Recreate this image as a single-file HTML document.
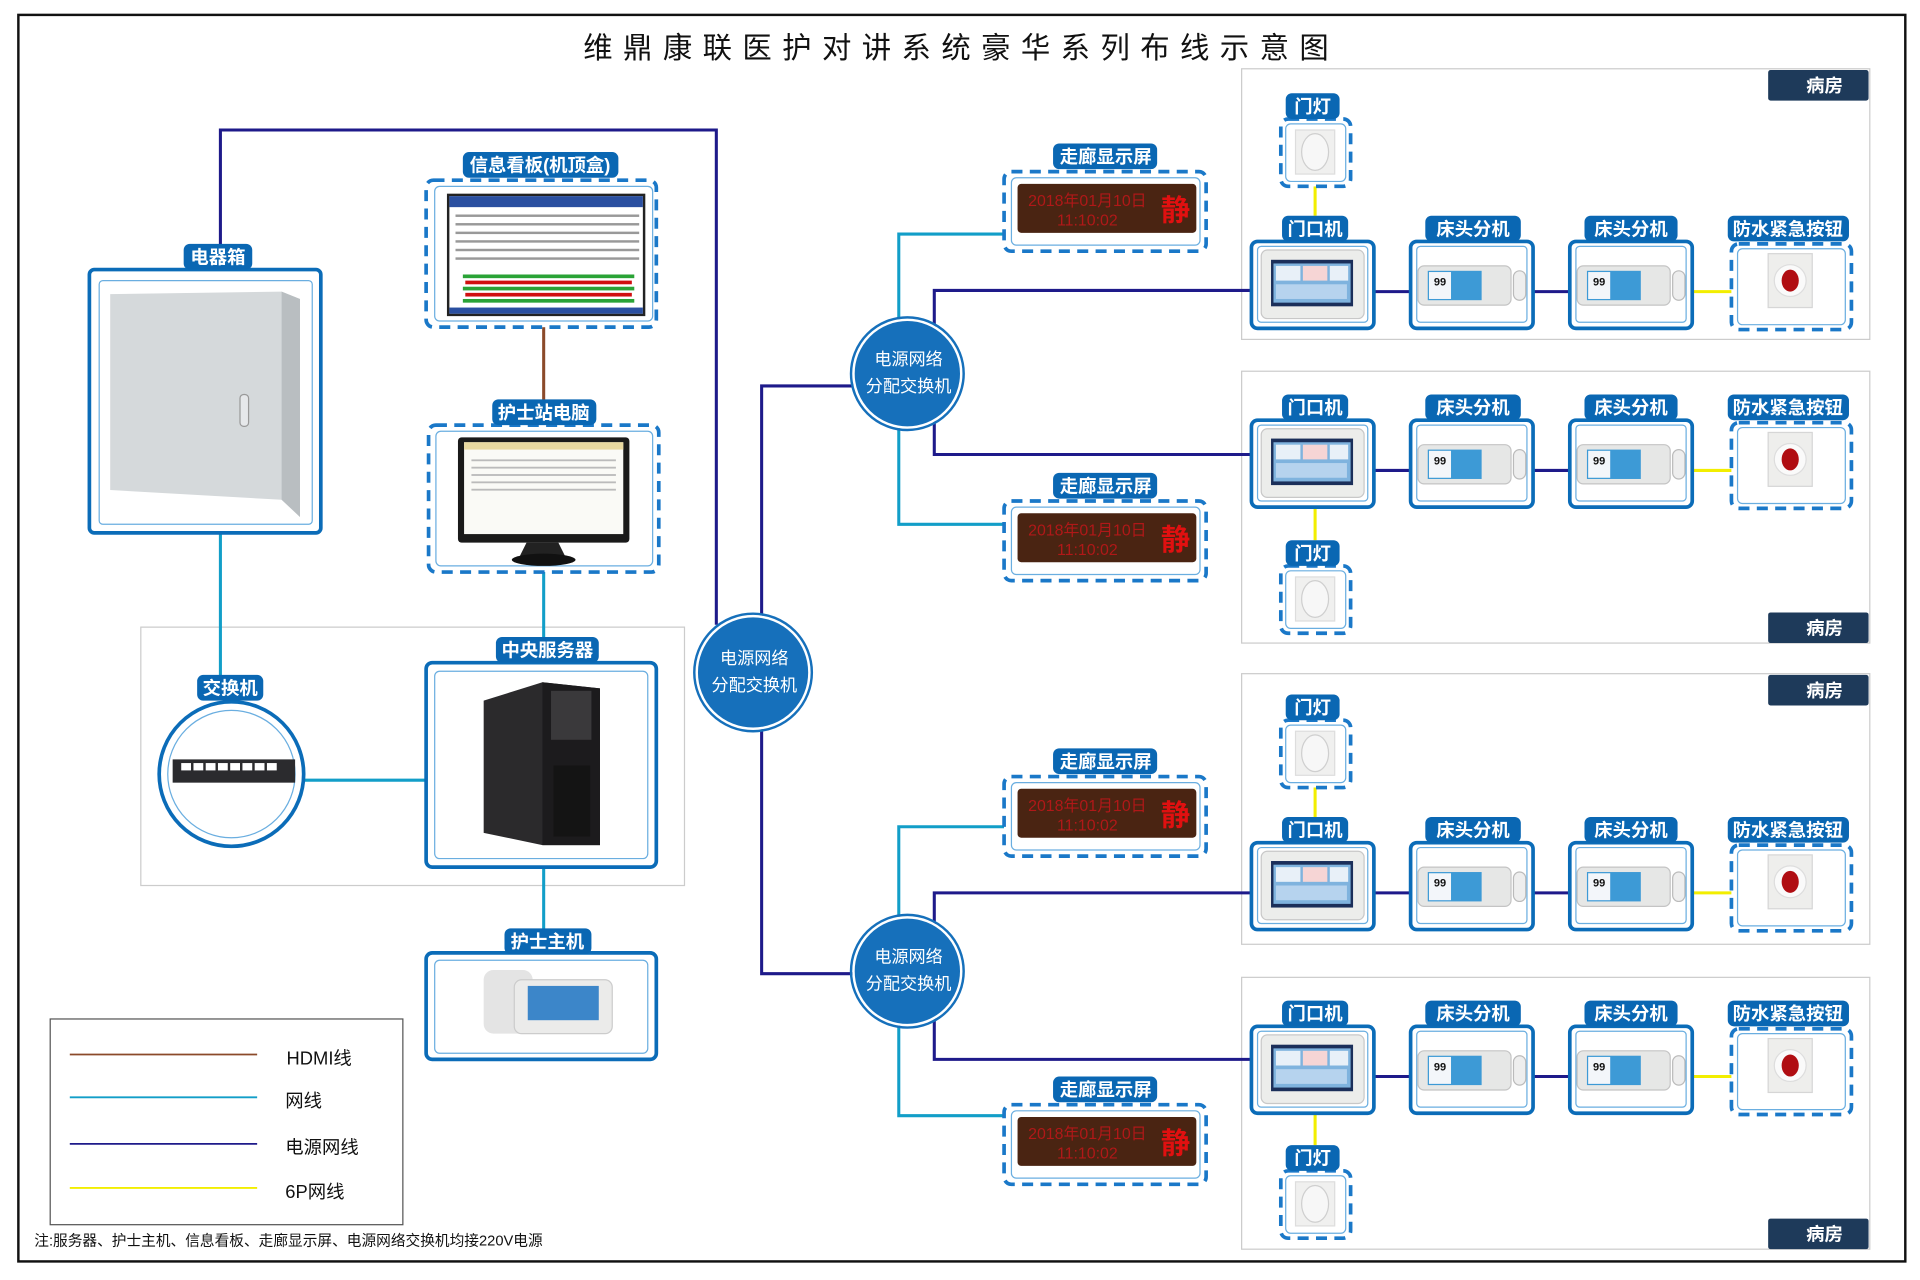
<!DOCTYPE html>
<html><head><meta charset="utf-8">
<style>
html,body{margin:0;padding:0;background:#fff;width:1920px;height:1280px;overflow:hidden}
svg{display:block}
text{font-family:"Liberation Sans","Noto Sans CJK SC",sans-serif}
.lb{fill:#fff;font-size:15px;font-weight:bold;text-anchor:middle}
</style></head><body>
<svg width="1920" height="1280" viewBox="0 0 1568 1045" xmlns="http://www.w3.org/2000/svg">
<defs>
 <g id="dm">
  <rect x="8" y="7" width="84" height="56" rx="5" fill="#ecedeb" stroke="#c8c8c8"/>
  <rect x="16" y="15" width="67" height="38" fill="#1b2f5a"/>
  <rect x="18" y="18" width="63" height="32" fill="#7fb3de"/>
  <rect x="20" y="20" width="20" height="12" fill="#e8f0f8"/><rect x="42" y="20" width="20" height="12" fill="#f6d5d5"/><rect x="64" y="20" width="15" height="12" fill="#e8f0f8"/>
  <rect x="20" y="35" width="58" height="12" fill="#b6d3ee"/>
 </g>
 <g id="bed">
  <rect x="6" y="20" width="76" height="32" rx="5" fill="#e6e7e6" stroke="#c4c4c4"/>
  <rect x="14" y="24" width="44" height="24" fill="#3d9ad6"/>
  <rect x="15" y="25" width="18" height="22" fill="#f3f6fa"/>
  <text x="24" y="36" font-size="9" font-weight="bold" text-anchor="middle" fill="#111">99</text>
  <rect x="84" y="24" width="10" height="24" rx="5" fill="#eee" stroke="#bbb"/>
 </g>
 <g id="sos">
  <rect x="32" y="8" width="36" height="44" fill="#eeeeec" stroke="#d6d6d6"/>
  <circle cx="50" cy="30" r="13" fill="#fafafa" stroke="#ddd"/>
  <ellipse cx="50" cy="30" rx="7" ry="9" fill="#b00d12"/>
 </g>
 <g id="lamp">
  <rect x="11" y="8" width="32" height="36" fill="#f0f0ef" stroke="#ddd"/>
  <ellipse cx="27" cy="26" rx="11" ry="15" fill="#f7f7f7" stroke="#cfcfcf"/>
 </g>
 <g id="row">
  <g fill="none" stroke-width="2.5"><path d="M1122 238 H1152 M1252 238 H1282" stroke="#1e1a8a"/><path d="M1382 238 H1414" stroke="#f2ee00"/></g>
  <rect x="1022" y="197" width="100" height="71" rx="5" fill="#fff" stroke="#0b6cb8" stroke-width="3"/>
  <rect x="1027" y="201" width="90" height="62" rx="3" fill="none" stroke="#6aaee0"/>
  <use href="#dm" x="1022" y="197"/>
  <rect x="1152" y="197" width="100" height="71" rx="5" fill="#fff" stroke="#0b6cb8" stroke-width="3"/>
  <rect x="1157" y="201" width="90" height="62" rx="3" fill="none" stroke="#6aaee0"/>
  <use href="#bed" x="1152" y="197"/>
  <rect x="1282" y="197" width="100" height="71" rx="5" fill="#fff" stroke="#0b6cb8" stroke-width="3"/>
  <rect x="1287" y="201" width="90" height="62" rx="3" fill="none" stroke="#6aaee0"/>
  <use href="#bed" x="1282" y="197"/>
  <rect x="1414" y="199" width="98" height="70" rx="6" fill="#fff" stroke="#1a78c8" stroke-width="3" stroke-dasharray="9 6"/>
  <rect x="1419" y="203" width="88" height="62" rx="4" fill="none" stroke="#6aaee0"/>
  <use href="#sos" x="1412" y="199"/>
  <rect x="1047" y="176" width="54" height="21" rx="5" fill="#0a67b3"/><text class="lb" x="1074" y="192">门口机</text>
  <rect x="1164" y="176" width="78" height="21" rx="5" fill="#0a67b3"/><text class="lb" x="1203" y="192">床头分机</text>
  <rect x="1294" y="176" width="76" height="21" rx="5" fill="#0a67b3"/><text class="lb" x="1332" y="192">床头分机</text>
  <rect x="1411" y="176" width="99" height="21" rx="5" fill="#0a67b3"/><text class="lb" x="1460" y="192">防水紧急按钮</text>
 </g>
 <g id="lampbox">
  <rect x="1046" y="97" width="57" height="55" rx="6" fill="#fff" stroke="#1a78c8" stroke-width="3" stroke-dasharray="9 6"/>
  <rect x="1050" y="101" width="49" height="47" rx="4" fill="none" stroke="#6aaee0"/>
  <use href="#lamp" x="1047" y="98"/>
  <rect x="1050" y="76" width="44" height="21" rx="5" fill="#0a67b3"/><text class="lb" x="1072" y="92">门灯</text>
 </g>
 <g id="tag"><rect x="1444" y="57" width="82" height="25" rx="2" fill="#1e3a5a"/><text x="1490" y="75" font-size="15" font-weight="bold" fill="#fff" text-anchor="middle">病房</text></g>
</defs>

<rect x="15" y="12" width="1541" height="1018" fill="none" stroke="#111" stroke-width="2"/>
<text x="785" y="47" font-size="24" text-anchor="middle" letter-spacing="8.5" fill="#111">维鼎康联医护对讲系统豪华系列布线示意图</text>

<rect x="115" y="512" width="444" height="211" fill="none" stroke="#ccc"/>

<!-- room panels -->
<g fill="#fff" stroke="#ccc">
 <rect x="1014" y="56" width="513" height="221"/>
 <rect x="1014" y="303" width="513" height="222"/>
 <rect x="1014" y="550" width="513" height="221"/>
 <rect x="1014" y="798" width="513" height="222"/>
</g>

<g fill="none" stroke-width="2.5">
 <path d="M180 220 V106 H585 V510" stroke="#1e1a8a"/>
 <path d="M444 267 V328" stroke="#8b4a2a"/>
 <path d="M444 467 V522 M180 435 V552 M249 637 H348 M444 708 V760" stroke="#129ec8"/>
 <path d="M622 505 V315 H697 M622 590 V795 H697" stroke="#1e1a8a"/>
 <path d="M763 268 V237 H1022 M763 342 V371 H1022 M763 756 V729 H1022 M763 830 V865 H1022" stroke="#1e1a8a"/>
 <path d="M734 262 V191 H820 M734 348 V428 H820 M734 750 V675 H820 M734 836 V911 H820" stroke="#129ec8"/>
 <path d="M1074 152 V176 M1074 413 V441 M1074 643 V667 M1074 909 V935" stroke="#f2ee00"/>
</g>

<!-- electrical box -->
<rect x="73" y="220" width="189" height="215" rx="4" fill="#fff" stroke="#0b6cb8" stroke-width="3"/>
<rect x="81" y="229" width="174" height="199" rx="3" fill="none" stroke="#6aaee0"/>
<polygon points="90,240 230,238 245,244 245,422 230,408 90,400" fill="#d5d9db"/>
<polygon points="230,238 245,244 245,422 230,408" fill="#b9bec1"/>
<rect x="196" y="322" width="7" height="26" rx="3" fill="#e6e8ea" stroke="#999"/>
<rect x="150" y="199" width="56" height="21" rx="5" fill="#0a67b3"/><text class="lb" x="178" y="215">电器箱</text>

<!-- info board -->
<rect x="348" y="147" width="188" height="120" rx="6" fill="#fff" stroke="#1a78c8" stroke-width="3" stroke-dasharray="9 6"/>
<rect x="355" y="152" width="178" height="110" rx="4" fill="none" stroke="#6aaee0"/>
<rect x="365" y="158" width="162" height="100" fill="#222"/>
<rect x="367" y="160" width="158" height="96" fill="#fff"/>
<rect x="367" y="160" width="158" height="9" fill="#2a4fa0"/>
<g fill="#2aa336"><rect x="378" y="224" width="140" height="3"/><rect x="378" y="234" width="140" height="3"/><rect x="378" y="244" width="140" height="3"/></g>
<g fill="#d01010"><rect x="380" y="229" width="136" height="3"/><rect x="380" y="239" width="136" height="3"/></g>
<g fill="#999"><rect x="372" y="175" width="150" height="2"/><rect x="372" y="182" width="150" height="2"/><rect x="372" y="189" width="150" height="2"/><rect x="372" y="196" width="150" height="2"/><rect x="372" y="203" width="150" height="2"/><rect x="372" y="210" width="150" height="2"/></g>
<rect x="367" y="251" width="158" height="5" fill="#2a4fa0"/>
<rect x="378" y="124" width="127" height="21" rx="5" fill="#0a67b3"/><text class="lb" x="441" y="140">信息看板(机顶盒)</text>

<!-- nurse PC -->
<rect x="350" y="347" width="188" height="120" rx="6" fill="#fff" stroke="#1a78c8" stroke-width="3" stroke-dasharray="9 6"/>
<rect x="356" y="352" width="177" height="110" rx="4" fill="none" stroke="#6aaee0"/>
<rect x="374" y="357" width="140" height="86" rx="3" fill="#1a1a1a"/>
<rect x="379" y="361" width="130" height="75" fill="#fafaf6"/>
<rect x="379" y="361" width="130" height="6" fill="#e8d9a0"/>
<g fill="#bbb"><rect x="385" y="375" width="118" height="1.5"/><rect x="385" y="381" width="118" height="1.5"/><rect x="385" y="387" width="118" height="1.5"/><rect x="385" y="393" width="118" height="1.5"/><rect x="385" y="399" width="118" height="1.5"/></g>
<path d="M430 443 h26 l6 12 h-38 z" fill="#222"/><ellipse cx="444" cy="457" rx="26" ry="5" fill="#111"/>
<rect x="402" y="326" width="85" height="21" rx="5" fill="#0a67b3"/><text class="lb" x="444" y="342">护士站电脑</text>

<!-- server -->
<rect x="348" y="541" width="188" height="167" rx="5" fill="#fff" stroke="#0b6cb8" stroke-width="3"/>
<rect x="355" y="548" width="174" height="153" rx="4" fill="none" stroke="#6aaee0"/>
<polygon points="395,572 443,557 490,562 490,690 443,690 395,680" fill="#2b2a2c"/>
<polygon points="443,557 490,562 490,690 443,690" fill="#1c1b1d"/>
<rect x="450" y="564" width="33" height="40" fill="#3a393b"/>
<rect x="452" y="625" width="30" height="58" fill="#141414"/>
<rect x="405" y="520" width="84" height="21" rx="5" fill="#0a67b3"/><text class="lb" x="447" y="536">中央服务器</text>

<!-- switch -->
<circle cx="189" cy="632" r="59" fill="#fff" stroke="#0b6cb8" stroke-width="3"/>
<circle cx="189" cy="632" r="52" fill="none" stroke="#6aaee0"/>
<rect x="141" y="620" width="100" height="19" fill="#2b2b2e"/>
<g fill="#fff"><rect x="148" y="623" width="8" height="6"/><rect x="158" y="623" width="8" height="6"/><rect x="168" y="623" width="8" height="6"/><rect x="178" y="623" width="8" height="6"/><rect x="188" y="623" width="8" height="6"/><rect x="198" y="623" width="8" height="6"/><rect x="208" y="623" width="8" height="6"/><rect x="218" y="623" width="8" height="6"/></g>
<rect x="161" y="551" width="54" height="21" rx="5" fill="#0a67b3"/><text class="lb" x="188" y="567">交换机</text>

<!-- nurse host -->
<rect x="348" y="778" width="188" height="87" rx="5" fill="#fff" stroke="#0b6cb8" stroke-width="3"/>
<rect x="355" y="784" width="174" height="76" rx="4" fill="none" stroke="#6aaee0"/>
<rect x="395" y="792" width="40" height="52" rx="8" fill="#e4e4e4"/>
<rect x="420" y="800" width="80" height="44" rx="6" fill="#ebebea" stroke="#ccc"/>
<rect x="431" y="805" width="58" height="28" fill="#3c86c9"/>
<rect x="412" y="758" width="71" height="21" rx="5" fill="#0a67b3"/><text class="lb" x="447" y="774">护士主机</text>

<!-- power distribution circles -->
<circle cx="615" cy="549" r="46" fill="#1670bb" stroke="#fff" stroke-width="2"/><circle cx="615" cy="549" r="48" fill="none" stroke="#1670bb" stroke-width="2"/>
<text x="616" y="542" font-size="14" fill="#fff" text-anchor="middle">电源网络</text><text x="616" y="564" font-size="14" fill="#fff" text-anchor="middle">分配交换机</text>
<circle cx="741" cy="305" r="44" fill="#1670bb" stroke="#fff" stroke-width="2"/><circle cx="741" cy="305" r="46" fill="none" stroke="#1670bb" stroke-width="2"/>
<text x="742" y="298" font-size="14" fill="#fff" text-anchor="middle">电源网络</text><text x="742" y="320" font-size="14" fill="#fff" text-anchor="middle">分配交换机</text>
<circle cx="741" cy="793" r="44" fill="#1670bb" stroke="#fff" stroke-width="2"/><circle cx="741" cy="793" r="46" fill="none" stroke="#1670bb" stroke-width="2"/>
<text x="742" y="786" font-size="14" fill="#fff" text-anchor="middle">电源网络</text><text x="742" y="808" font-size="14" fill="#fff" text-anchor="middle">分配交换机</text>

<!-- corridor displays -->
<g id="cd1">
 <rect x="820" y="140" width="165" height="65" rx="6" fill="#fff" stroke="#1a78c8" stroke-width="3" stroke-dasharray="9 6"/>
 <rect x="826" y="145" width="154" height="55" rx="4" fill="none" stroke="#6aaee0"/>
 <rect x="831" y="150" width="146" height="40" rx="3" fill="#4a2412"/>
 <text x="888" y="168" font-size="13" fill="#b01818" text-anchor="middle">2018年01月10日</text>
 <text x="888" y="184" font-size="13" fill="#b01818" text-anchor="middle">11:10:02</text>
 <text x="960" y="180" font-size="24" font-weight="bold" fill="#e01010" text-anchor="middle">静</text>
 <rect x="860" y="117" width="85" height="21" rx="5" fill="#0a67b3"/><text class="lb" x="903" y="133">走廊显示屏</text>
</g>
<use href="#cd1" y="269"/>
<use href="#cd1" y="494"/>
<use href="#cd1" y="762"/>

<!-- rooms -->
<use href="#row"/>
<use href="#row" y="146"/>
<use href="#row" y="491"/>
<use href="#row" y="641"/>

<use href="#lampbox"/>
<use href="#lampbox" y="365"/>
<use href="#lampbox" y="491"/>
<use href="#lampbox" y="859"/>

<use href="#tag"/>
<use href="#tag" y="443"/>
<use href="#tag" y="494"/>
<use href="#tag" y="938"/>

<!-- legend -->
<rect x="41" y="832" width="288" height="168" fill="#fff" stroke="#555"/>
<g stroke-width="1.5"><path d="M57 861 H210" stroke="#8b4a2a"/><path d="M57 896 H210" stroke="#129ec8"/><path d="M57 934 H210" stroke="#1e1a8a"/><path d="M57 970 H210" stroke="#f2ee00"/></g>
<g font-size="15" fill="#111"><text x="234" y="869">HDMI线</text><text x="233" y="904">网线</text><text x="233" y="942">电源网线</text><text x="233" y="978">6P网线</text></g>
<text x="28" y="1017" font-size="12" fill="#111">注:服务器、护士主机、信息看板、走廊显示屏、电源网络交换机均接220V电源</text>
</svg>
</body></html>
